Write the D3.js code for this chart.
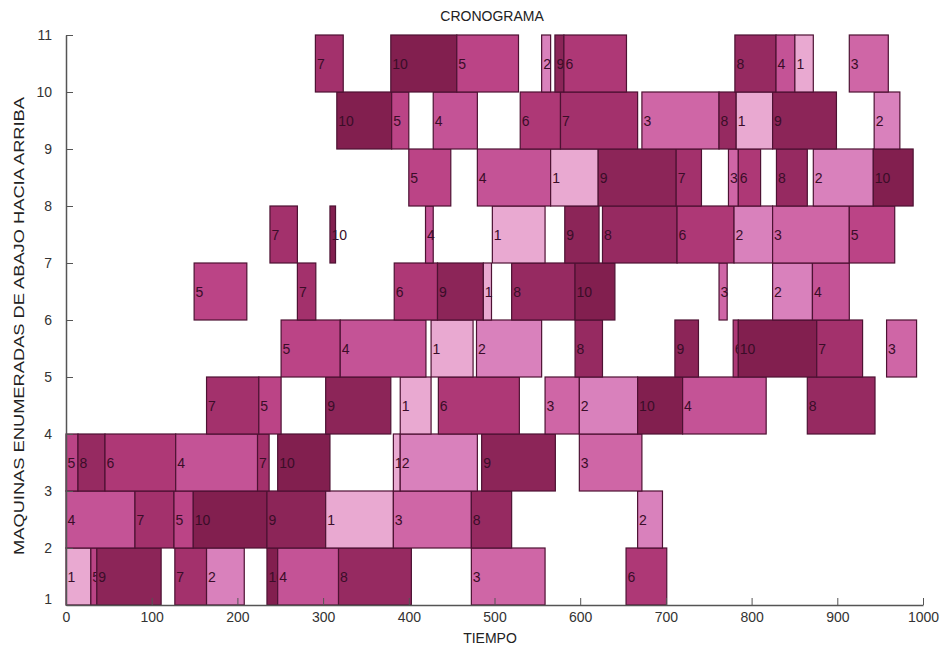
<!DOCTYPE html>
<html>
<head>
<meta charset="utf-8">
<script src="https://cdn.jsdelivr.net/npm/d3@7/dist/d3.min.js"></script>
<style>
  html, body { margin: 0; padding: 0; background: #fff; }
  svg { display: block; }
  text { font-family: "Liberation Sans", Arial, Helvetica, sans-serif; }
</style>
</head>
<body>
<svg id="chart" width="948" height="650"></svg>
<script>
// Machines (rows), bottom to top
const machines = [1, 2, 3, 4, 5, 6, 7, 8, 9, 10];

// Job number of each operation on each machine (in time order)
const jobOrder = [
  [1, 5, 9, 7, 2, 10, 4, 8, 3, 6],
  [4, 7, 5, 10, 9, 1, 3, 8, 2],
  [5, 8, 6, 4, 7, 10, 1, 2, 9, 3],
  [7, 5, 9, 1, 6, 3, 2, 10, 4, 8],
  [5, 4, 1, 2, 8, 9, 6, 10, 7, 3],
  [5, 7, 6, 9, 1, 8, 10, 3, 2, 4],
  [7, 10, 4, 1, 9, 8, 6, 2, 3, 5],
  [5, 4, 1, 9, 7, 3, 6, 8, 2, 10],
  [10, 5, 4, 6, 7, 3, 8, 1, 9, 2],
  [7, 10, 5, 2, 9, 6, 8, 4, 1, 3]
];

// Start times of each operation
const startTimes = [
  [0, 29, 36, 127, 164, 234.5, 247, 318, 473, 653.5],
  [0, 80.5, 126, 148.5, 234.5, 303, 382, 473, 667],
  [0, 14, 45.5, 128, 223.5, 247, 382, 390, 485, 599],
  [164, 225, 303, 390, 434.5, 559, 599, 667, 719.5, 865],
  [251, 320, 426, 479, 594, 710.5, 778.5, 784.5, 876, 957.5],
  [149.5, 270, 383, 433.5, 487, 520, 594, 762, 824.5, 871],
  [238, 308, 419.5, 497.5, 582, 626, 713, 779.5, 824.5, 914],
  [400, 480, 565.5, 621, 712, 773, 784.5, 829, 872, 942],
  [316, 380, 428.5, 530, 577, 672, 762, 782, 824.5, 943],
  [291, 379, 456, 555, 570.5, 581, 780.5, 828.5, 850.5, 914]
];

// End times of each operation
const endTimes = [
  [29, 36, 111, 164, 208, 247, 318, 403, 559, 701],
  [80.5, 126, 148.5, 234.5, 303, 382, 473, 520, 696],
  [14, 45.5, 128, 223.5, 237, 308, 390, 480, 571, 672],
  [225, 251, 379, 426, 529, 599, 667, 719.5, 817, 944],
  [320, 420, 475, 555, 626, 738, 784.5, 876, 929.5, 992.5],
  [211, 291.5, 433.5, 487, 496.5, 594, 640.5, 771.5, 871, 914],
  [270, 314.5, 428.5, 559, 622, 713, 779.5, 824.5, 914, 967],
  [449, 565.5, 621, 712, 741.5, 784.5, 810.5, 865, 942, 988.5],
  [380, 400, 480, 577, 667, 762, 782, 824.5, 899, 973],
  [323.5, 456, 528, 565.5, 581, 654, 828.5, 850.5, 872, 959.5]
];

// Colour of each job (job 1 .. job 10)
const jobColors = ["#e9a9d1", "#d981bc", "#cf66a6", "#c45396", "#bb4486",
                   "#ae3876", "#a3316c", "#962a61", "#8c2558", "#821f4f"];

const xTicks = [0, 100, 200, 300, 400, 500, 600, 700, 800, 900, 1000];
const yTicks = [1, 2, 3, 4, 5, 6, 7, 8, 9, 10, 11];

const svg = d3.select("#chart");
const x = d3.scaleLinear().domain([0, 1000]).range([66, 923]);
const y = d3.scaleLinear().domain([1, 11]).range([605, 35]);
const color = d3.scaleOrdinal().domain(d3.range(1, 11)).range(jobColors);

// Build operations list
const ops = [];
machines.forEach((m, i) => {
  jobOrder[i].forEach((j, k) => {
    ops.push({ machine: m, job: j, start: startTimes[i][k], end: endTimes[i][k] });
  });
});

const g = svg.append("g");
const groups = g.selectAll("g.op").data(ops).enter().append("g").attr("class", "op");
groups.append("rect")
  .attr("x", d => x(d.start))
  .attr("y", d => y(d.machine + 1))
  .attr("width", d => x(d.end) - x(d.start))
  .attr("height", d => y(d.machine) - y(d.machine + 1))
  .attr("fill", d => color(d.job))
  .attr("stroke", "#4d1233")
  .attr("stroke-width", 1.2);
groups.append("text")
  .attr("x", d => x(d.start) + 1.5)
  .attr("y", d => (y(d.machine) + y(d.machine + 1)) / 2 + 5)
  .attr("font-size", 14)
  .attr("fill", "#3a0d28")
  .text(d => d.job);

// Axes
const axisColor = "#555";
const xAxis = d3.axisBottom(x).tickValues(xTicks).tickFormat(d3.format("d"))
  .tickSizeInner(-7).tickSizeOuter(0).tickPadding(7);
const gx = svg.append("g").attr("transform", "translate(0,605)").call(xAxis);
gx.select(".domain").attr("stroke", axisColor).attr("stroke-width", 1.5);
gx.selectAll(".tick line").attr("stroke", axisColor);
gx.selectAll(".tick text").attr("font-size", 14).attr("fill", "#333")
  .attr("font-family", "'Liberation Sans', Arial, sans-serif");

const yAxis = d3.axisLeft(y).tickValues(yTicks).tickSizeInner(-7).tickSizeOuter(0).tickPadding(14);
const gy = svg.append("g").attr("transform", "translate(66,0)").call(yAxis);
gy.select(".domain").attr("stroke", axisColor).attr("stroke-width", 1.5);
gy.selectAll(".tick line").attr("stroke", axisColor);
gy.selectAll(".tick text").attr("font-size", 14).attr("fill", "#333")
  .attr("font-family", "'Liberation Sans', Arial, sans-serif");
gy.selectAll(".tick").filter(d => d === 1).select("text").attr("dy", "-0.1em");

// Title and labels
svg.append("text").attr("x", 492).attr("y", 21).attr("text-anchor", "middle")
  .attr("font-size", 14).attr("fill", "#222").text("CRONOGRAMA");
svg.append("text").attr("x", 490).attr("y", 643).attr("text-anchor", "middle")
  .attr("font-size", 14).attr("fill", "#222").text("TIEMPO");
svg.append("text").attr("transform", "translate(24,326) rotate(-90)")
  .attr("text-anchor", "middle").attr("font-size", 15).attr("fill", "#222")
  .attr("textLength", 458).attr("lengthAdjust", "spacingAndGlyphs")
  .text("MAQUINAS ENUMERADAS DE ABAJO HACIA ARRIBA");
</script>
</body>
</html>
